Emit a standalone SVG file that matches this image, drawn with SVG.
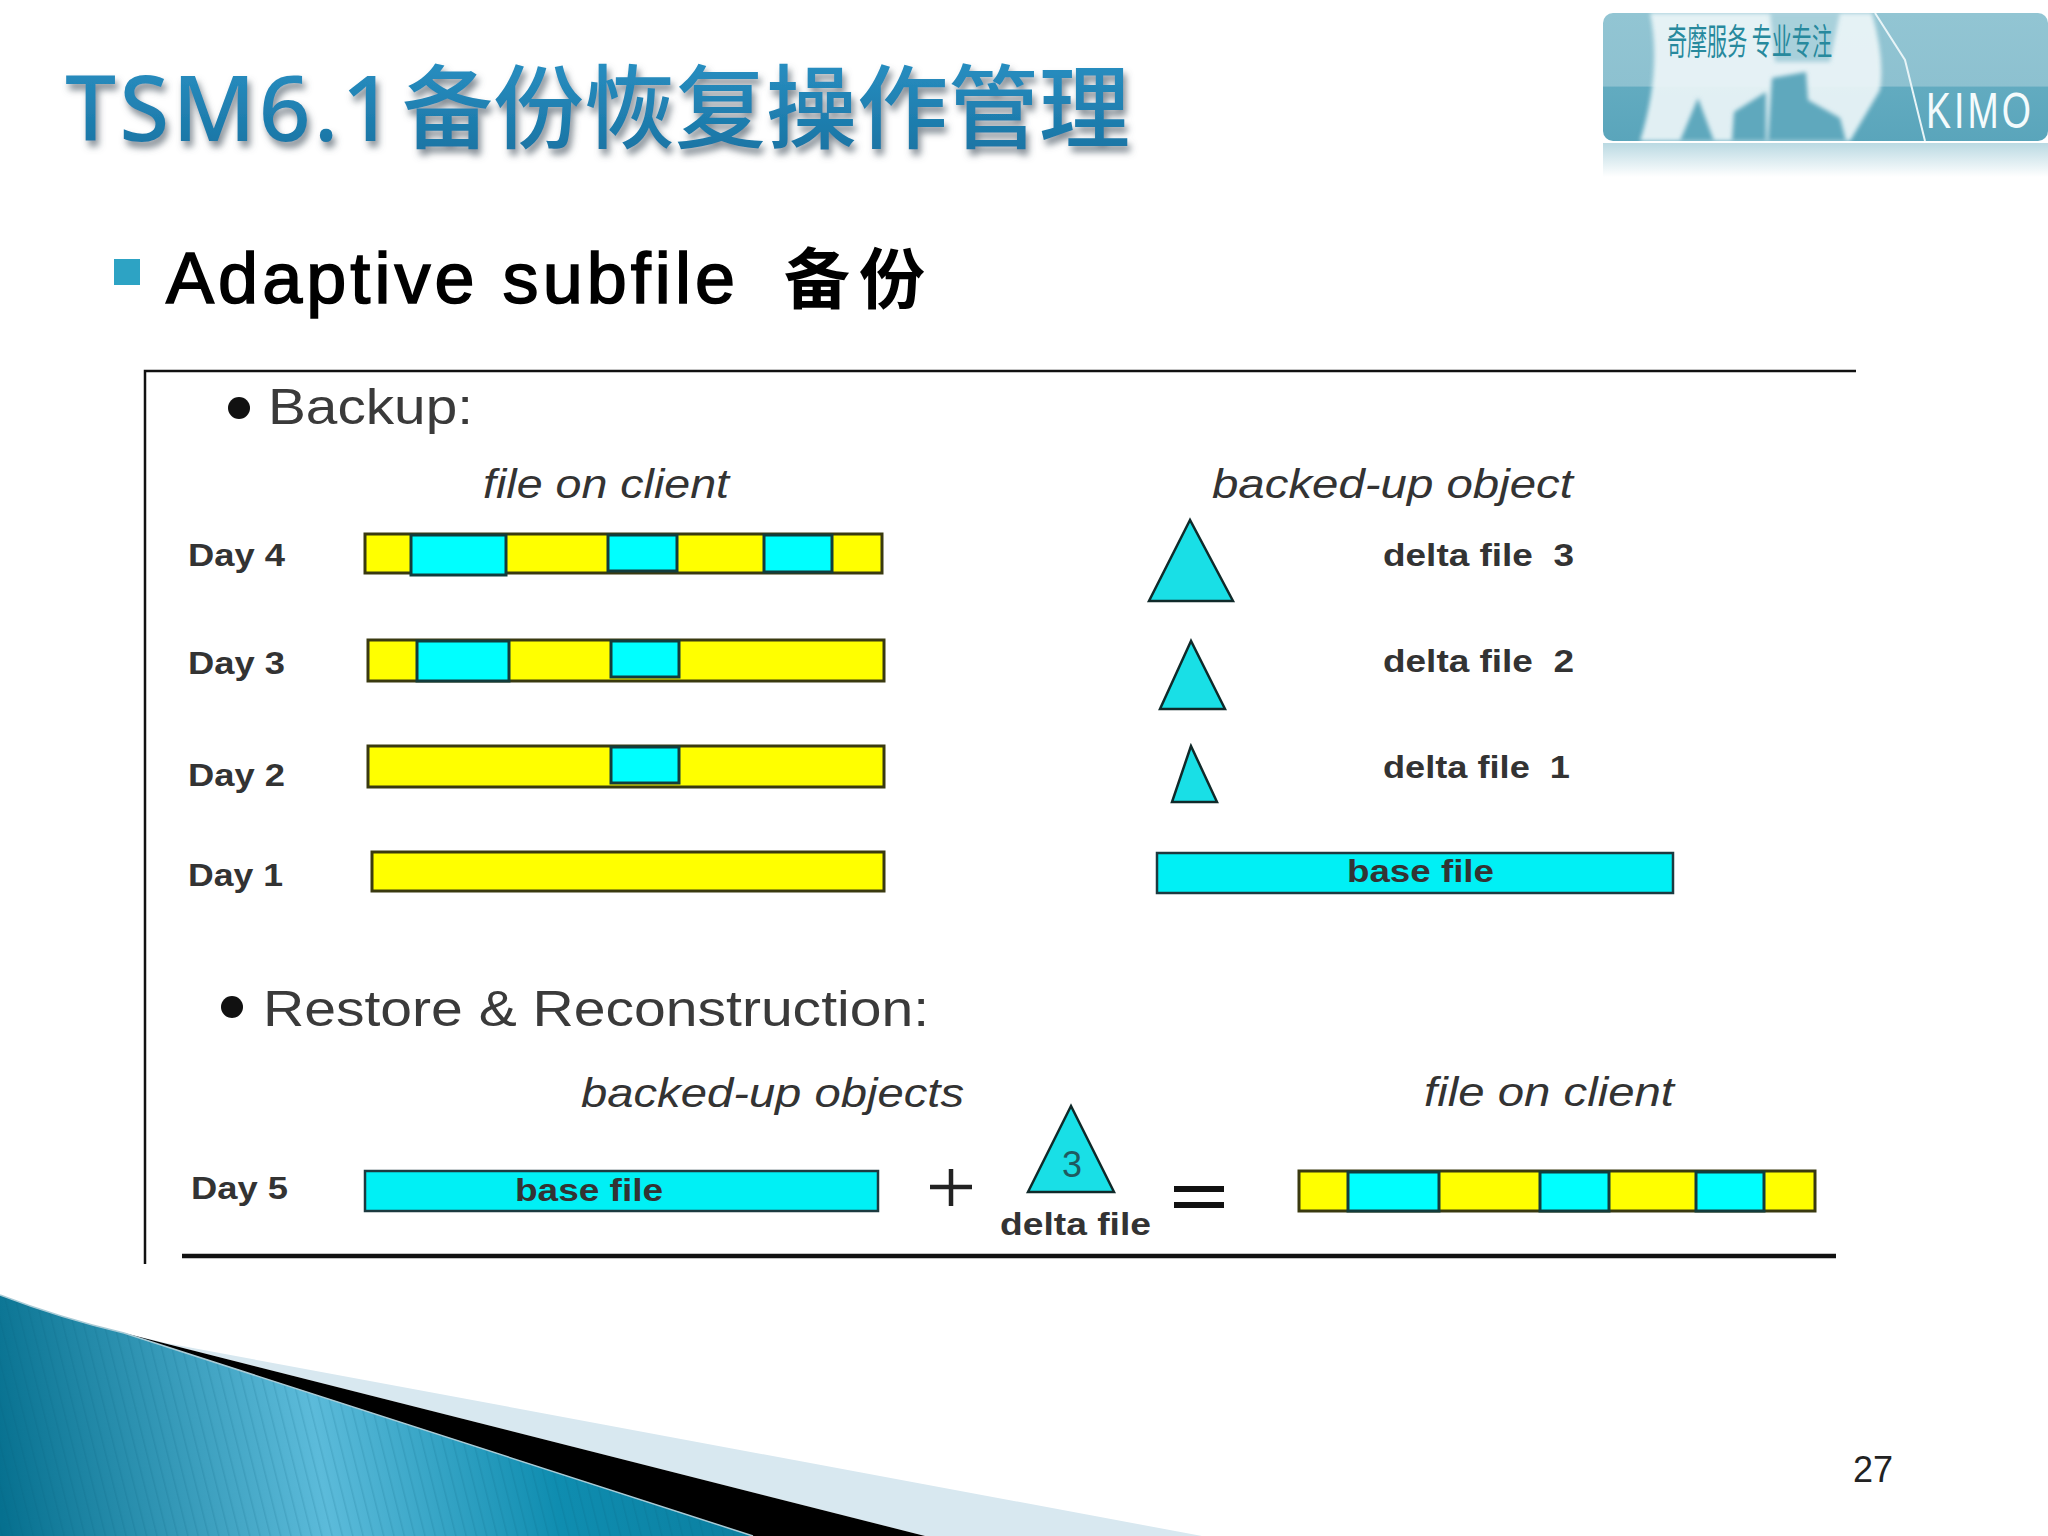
<svg xmlns="http://www.w3.org/2000/svg" width="2048" height="1536" viewBox="0 0 2048 1536">
<style>
.bar{stroke:#3a3a10;stroke-width:3}
.y{fill:#ffff00}
.c{fill:#00ffff;stroke:#123c3c;stroke-width:3}
.tri{fill:#19dfe6;stroke:#102a2a;stroke-width:2.5;stroke-linejoin:miter}
.base{fill:#00f0f5;stroke:#1c3a40;stroke-width:2.5}
.day{font:bold 31px "Liberation Sans",sans-serif;fill:#333}
.head{font:50px "Liberation Sans",sans-serif;fill:#3a3a3a}
.ital{font:italic 40px "Liberation Sans",sans-serif;fill:#333}
</style>
<defs>
<filter id="sh" x="-5%" y="-20%" width="110%" height="150%"><feDropShadow dx="3" dy="6" stdDeviation="3.5" flood-color="#5a6570" flood-opacity=".75"/></filter>
<filter id="b1" x="-10%" y="-10%" width="120%" height="120%"><feGaussianBlur stdDeviation="2"/></filter>
<linearGradient id="tg" x1="0" y1="0" x2="0" y2="1"><stop offset="0" stop-color="#2b93c6"/><stop offset="1" stop-color="#17709f"/></linearGradient>
<linearGradient id="bl" gradientUnits="userSpaceOnUse" x1="0" y1="1500" x2="760" y2="1400"><stop offset="0" stop-color="#06708f"/><stop offset=".42" stop-color="#5cbbda"/><stop offset=".72" stop-color="#0f8db0"/><stop offset="1" stop-color="#0a7d9e"/></linearGradient>
<linearGradient id="ban" x1="0" y1="0" x2="0" y2="1"><stop offset="0" stop-color="#92c5d3"/><stop offset=".57" stop-color="#8dc1d0"/><stop offset=".58" stop-color="#62abc0"/><stop offset="1" stop-color="#5aa5bb"/></linearGradient>
<linearGradient id="ref" x1="0" y1="0" x2="0" y2="1"><stop offset="0" stop-color="#8cc0cf" stop-opacity=".6"/><stop offset="1" stop-color="#8cc0cf" stop-opacity="0"/></linearGradient>
<pattern id="st" width="10" height="10" patternUnits="userSpaceOnUse" patternTransform="rotate(-14)"><rect width="1.5" height="10" fill="#06607c" opacity=".16"/></pattern>
<clipPath id="lc"><rect x="1603" y="13" width="445" height="128" rx="10"/></clipPath>
</defs>
<rect width="2048" height="1536" fill="#fff"/>

<g id="title"><text y="141" font-family="'Noto Sans','Noto Sans CJK SC',sans-serif" font-size="91" font-weight="500" fill="url(#tg)" filter="url(#sh)"><tspan x="65" letter-spacing="3">TSM6.1</tspan><tspan x="402">备份恢复操作管理</tspan></text></g>

<g id="logo">
<rect x="1603" y="13" width="445" height="128" rx="10" fill="url(#ban)"/>
<g clip-path="url(#lc)">
<path d="M1650 13L1872 13Q1885 60 1880 90L1850 141L1640 141Q1662 70 1650 13Z" fill="#edf6f8" filter="url(#b1)" opacity=".92"/>
<g fill="#5fa8bd" filter="url(#b1)">
<path d="M1680 141L1698 98L1708 125L1714 141Z"/>
<path d="M1732 141L1734 112L1766 92L1766 141Z"/>
<path d="M1768 141L1772 78L1806 72L1808 100L1840 118L1846 141Z"/>
<path d="M1770 13L1840 13L1830 62L1775 62Z" opacity=".45"/>
</g>
<path d="M1875 13L1905 60L1925 141" fill="none" stroke="#e8f4f7" stroke-width="2"/>
</g>
<rect x="1603" y="143" width="445" height="34" fill="url(#ref)"/>
<text x="1667" y="55" font-family="'Noto Sans CJK SC',sans-serif" font-size="36" fill="#27899d" textLength="165" lengthAdjust="spacingAndGlyphs">奇摩服务&#160;专业专注</text>
<text transform="translate(1926,128) scale(.75,1)" font-family="'Liberation Sans',sans-serif" font-size="50" letter-spacing="4" fill="#f4fbfc">KIMO</text>
</g>

<g id="heading">
<rect x="114" y="259" width="26" height="26" fill="#2da3c4"/>
<text x="166" y="303" font-family="'Liberation Sans',sans-serif" font-size="72" fill="#000" stroke="#000" stroke-width="1.6" textLength="569">Adaptive subfile</text>
<text x="784" y="303" font-family="'Noto Sans CJK SC',sans-serif" font-size="66" font-weight="700" fill="#000" textLength="141">备份</text>
</g>

<g id="frame" fill="none" stroke="#111">
<path d="M145 1264V371H1856" stroke-width="2.5"/>
<path d="M182 1256H1836" stroke-width="4.5"/>
</g>

<g id="backup-heading"><circle cx="239" cy="408" r="11" fill="#111"/><text class="head" x="268" y="424" textLength="205" lengthAdjust="spacingAndGlyphs">Backup:</text></g>
<text class="ital" x="483" y="498" textLength="246" lengthAdjust="spacingAndGlyphs">file on client</text>
<text class="ital" x="1212" y="498" textLength="361" lengthAdjust="spacingAndGlyphs">backed-up object</text>

<g id="day4"><text class="day" x="188" y="566" textLength="97" lengthAdjust="spacingAndGlyphs">Day 4</text>
<rect class="bar y" x="365" y="534" width="517" height="39"/>
<rect class="c" x="411" y="535" width="95" height="40"/><rect class="c" x="608" y="535" width="69" height="36"/><rect class="c" x="764" y="535" width="68" height="37"/></g>
<g id="day3"><text class="day" x="188" y="674" textLength="97" lengthAdjust="spacingAndGlyphs">Day 3</text>
<rect class="bar y" x="368" y="640" width="516" height="41"/>
<rect class="c" x="417" y="641" width="92" height="40"/><rect class="c" x="611" y="641" width="68" height="36"/></g>
<g id="day2"><text class="day" x="188" y="786" textLength="97" lengthAdjust="spacingAndGlyphs">Day 2</text>
<rect class="bar y" x="368" y="746" width="516" height="41"/>
<rect class="c" x="611" y="747" width="68" height="36"/></g>
<g id="day1"><text class="day" x="188" y="886" textLength="95" lengthAdjust="spacingAndGlyphs">Day 1</text>
<rect class="bar y" x="372" y="852" width="512" height="39"/></g>

<g id="delta3"><polygon class="tri" points="1190,520 1149,601 1233,601"/><text class="day" x="1383" y="566" textLength="191" lengthAdjust="spacingAndGlyphs">delta file&#160;&#160;3</text></g>
<g id="delta2"><polygon class="tri" points="1191,641 1160,709 1225,709"/><text class="day" x="1383" y="672" textLength="191" lengthAdjust="spacingAndGlyphs">delta file&#160;&#160;2</text></g>
<g id="delta1"><polygon class="tri" points="1191,746 1172,802 1217,802"/><text class="day" x="1383" y="778" textLength="187" lengthAdjust="spacingAndGlyphs">delta file&#160;&#160;1</text></g>
<g id="basefile"><rect class="base" x="1157" y="853" width="516" height="40"/><text class="day" x="1347" y="882" textLength="147" lengthAdjust="spacingAndGlyphs">base file</text></g>

<g id="restore-heading"><circle cx="232" cy="1007" r="11" fill="#111"/><text class="head" x="263" y="1026" textLength="666" lengthAdjust="spacingAndGlyphs">Restore &amp; Reconstruction:</text></g>
<text class="ital" x="581" y="1107" textLength="383" lengthAdjust="spacingAndGlyphs">backed-up objects</text>
<text class="ital" x="1424" y="1106" textLength="250" lengthAdjust="spacingAndGlyphs">file on client</text>

<g id="day5"><text class="day" x="191" y="1199" textLength="97" lengthAdjust="spacingAndGlyphs">Day 5</text>
<rect class="base" x="365" y="1171" width="513" height="40"/><text class="day" x="515" y="1201" textLength="148" lengthAdjust="spacingAndGlyphs">base file</text></g>
<g id="plus"><path d="M930 1187H972M951 1169V1206" stroke="#222" stroke-width="4.5" fill="none"/></g>
<g id="delta-result"><polygon class="tri" points="1071,1106 1028,1192 1114,1192"/><text x="1072" y="1177" text-anchor="middle" font-family="'Liberation Sans',sans-serif" font-size="36" fill="#1f5a60">3</text><text class="day" x="1000" y="1235" textLength="151" lengthAdjust="spacingAndGlyphs">delta file</text></g>
<g id="equals"><path d="M1174 1189H1224M1174 1205H1224" stroke="#111" stroke-width="6" fill="none"/></g>
<g id="result">
<rect class="bar y" x="1299" y="1171" width="516" height="40"/>
<rect class="c" x="1348" y="1172" width="91" height="39"/><rect class="c" x="1540" y="1172" width="69" height="39"/><rect class="c" x="1696" y="1172" width="68" height="39"/>
</g>

<g id="corner">
<polygon points="166,1343 1202,1536 925,1536 124,1333" fill="#d8e8f0"/>
<polygon points="124,1333 925,1536 753,1536" fill="#000"/>
<path d="M0 1295Q60 1318 124 1333L753 1536H0Z" fill="url(#bl)"/>
<path d="M0 1295Q60 1318 124 1333L753 1536H0Z" fill="url(#st)"/>
<path d="M0 1295Q60 1318 124 1333L753 1536" fill="none" stroke="#a9cbd6" stroke-width="1.5"/>
</g>
<text id="page" x="1853" y="1482" font-family="'Liberation Sans',sans-serif" font-size="36" fill="#222">27</text>
</svg>
